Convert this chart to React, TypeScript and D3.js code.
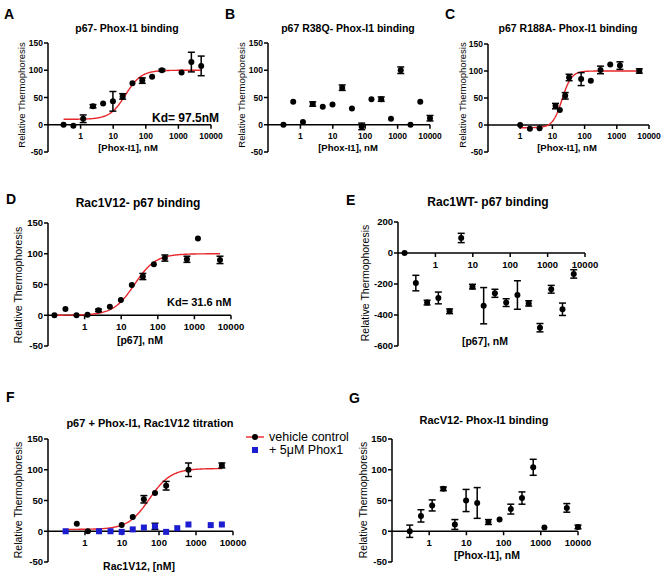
import React from "react";
import * as d3 from "d3";

const FONT = "'Liberation Sans', Arial, Helvetica, sans-serif";

// ---------- data ----------
const xTickValues = [1, 10, 100, 1000, 10000];
const yTicksStd = [150, 100, 50, 0, -50];
const yTicksE = [200, 0, -200, -400, -600];

// A: p67 - Phox-I1
const concA = [0.3, 0.6, 1.2, 2.4, 4.9, 9.8, 19.5, 39, 78, 156, 312, 1250, 2500, 5000];
const valA = [0, -2, 11, 34, 39, 43, 52, 76, 81, 88, 100, 96, 115, 108];
const errA = [0, 0, 7, 3, 0, 18, 5, 0, 5, 0, 2, 0, 18, 18];

// B: p67 R38Q - Phox-I1
const concB = [0.3, 0.6, 1.2, 2.4, 4.9, 9.8, 19.5, 39, 78, 156, 312, 625, 1250, 2500, 5000, 10000];
const valB = [0, 42, 5, 38, 33, 37, 68, 30, -3, 47, 47, 11, 100, 0, 42, 12];
const errB = [0, 0, 0, 4, 0, 0, 5, 0, 6, 0, 4, 0, 6, 0, 0, 5];

// C: p67 R188A - Phox-I1
const concC = [1, 2, 4, 12.5, 17, 25, 33, 78, 156, 312, 625, 1250, 5000];
const valC = [0, -7, -6, 35, 28, 54, 88, 85, 82, 102, 112, 110, 100];
const errC = [0, 0, 0, 5, 0, 6, 6, 12, 0, 7, 0, 7, 4];

// D: Rac1V12 - p67
const concD = [0.15, 0.3, 0.6, 1.2, 2.4, 4.9, 9.8, 19.5, 39, 78, 156, 625, 1250, 5000];
const valD = [0, 10, 0, 1, 8, 14, 25, 49, 63, 83, 93, 91, 125, 90];
const errD = [0, 0, 0, 0, 2, 0, 0, 0, 5, 0, 5, 5, 0, 6];

// E: Rac1WT - p67
const concE = [0.15, 0.3, 0.6, 1.2, 2.4, 4.9, 9.8, 19.5, 39, 78, 156, 312, 625, 1250, 2500, 5000];
const valE = [0, -194, -320, -290, -376, 97, -217, -340, -260, -320, -271, -325, -482, -234, -363, -135];
const errE = [0, 50, 15, 38, 15, 30, 15, 117, 26, 25, 92, 17, 27, 25, 40, 27];

// F: p67 + Phox-I1, Rac1V12 titration
const concFveh = [0.6, 1.2, 9.8, 19.5, 39, 78, 156, 625, 5000];
const valFveh = [12, 0, 10, 23, 52, 62, 74, 100, 107];
const errFveh = [0, 0, 0, 0, 6, 0, 7, 11, 4];
const concFphox = [0.3, 2.4, 4.9, 9.8, 19.5, 39, 78, 156, 312, 625, 2500, 5000];
const valFphox = [0, 0, 0, -1, 3, 6, 8, -1, 5, 11, 10, 11];
const errFphox = [0, 0, 0, 0, 0, 0, 5, 0, 0, 0, 0, 0];
const legendF = ["vehicle control", "+ 5\u03bcM Phox1"];

// G: RacV12 - Phox-I1
const concG = [0.3, 0.6, 1.2, 2.4, 4.9, 9.8, 19.5, 39, 78, 156, 312, 625, 1250, 5000, 10000];
const valG = [0, 25, 42, 69, 11, 50, 46, 15, 19, 36, 54, 104, 6, 38, 7];
const errG = [10, 10, 9, 3, 8, 18, 25, 4, 0, 8, 10, 13, 0, 7, 3];

// fitted sigmoid parameters (bottom, top, EC50, hill, range)
const fitA = { bottom: 10, top: 100, ec50: 24, hill: 1.8, from: 0.3, to: 5000 };
const fitC = { bottom: -5, top: 100, ec50: 20, hill: 3, from: 1, to: 5000 };
const fitD = { bottom: 0, top: 100, ec50: 23, hill: 1.5, from: 0.15, to: 5000 };
const fitF = { bottom: 3, top: 102, ec50: 55, hill: 1.5, from: 0.3, to: 5000 };

// ---------- rendering ----------
type Series = { conc: number[]; val: number[]; err: number[]; shape: "circle" | "square"; color: string };
type Fit = { bottom: number; top: number; ec50: number; hill: number; from: number; to: number };
type PanelCfg = {
  letter: string; letterPos: [number, number];
  title: string; titlePos: [number, number]; titleSize: number;
  xRange: [number, number]; yPix: [number, number]; yDomain: [number, number]; yTicks: number[];
  tickSize: number; tickLabelDy: number;
  xTitle: string; xTitlePos: [number, number]; xTitleSize: number;
  yTitlePos: [number, number]; yTitleSize: number;
  series: Series[]; fit?: Fit;
  kd?: { text: string; x: number; y: number; size: number };
};

const RED = "#e8262b";
const BLUE = "#1c1cd0";

function sigmoid(f: Fit, x: number) {
  return f.bottom + (f.top - f.bottom) / (1 + Math.pow(f.ec50 / x, f.hill));
}

function Panel({ cfg }: { cfg: PanelCfg }) {
  const x = d3.scaleLog().domain([0.1, 10000]).range(cfg.xRange);
  const y = d3.scaleLinear().domain(cfg.yDomain).range(cfg.yPix);
  const ax = cfg.xRange[0];
  const y0 = y(0);
  let curve: string | null = null;
  if (cfg.fit) {
    const f = cfg.fit;
    const lx = d3.scaleLog().domain([f.from, f.to]);
    const samples = d3.range(0, 201).map((i) => lx.invert(i / 200));
    curve = d3.line<number>().x((c) => x(c)).y((c) => y(sigmoid(f, c)))(samples);
  }
  const cap = 3.5;
  return (
    <g>
      <text x={cfg.letterPos[0]} y={cfg.letterPos[1]} fontFamily={FONT} fontWeight="bold" fontSize={14}>{cfg.letter}</text>
      <text x={cfg.titlePos[0]} y={cfg.titlePos[1]} textAnchor="middle" fontFamily={FONT} fontWeight="bold" fontSize={cfg.titleSize}>{cfg.title}</text>
      {/* y axis */}
      <line x1={ax} x2={ax} y1={y(cfg.yTicks[0])} y2={y(cfg.yTicks[cfg.yTicks.length - 1])} stroke="#000" strokeWidth={1.5} />
      {cfg.yTicks.map((t) => (
        <g key={"y" + t}>
          <line x1={ax - 4} x2={ax} y1={y(t)} y2={y(t)} stroke="#000" strokeWidth={1.5} />
          <text x={ax - 5} y={y(t) + cfg.tickSize * 0.36} textAnchor="end" fontFamily={FONT} fontWeight="bold" fontSize={cfg.tickSize}>{t}</text>
        </g>
      ))}
      {/* x axis at y=0 */}
      <line x1={ax} x2={cfg.xRange[1]} y1={y0} y2={y0} stroke="#000" strokeWidth={1.5} />
      {xTickValues.map((t) => (
        <g key={"x" + t}>
          <line x1={x(t)} x2={x(t)} y1={y0} y2={y0 + 4} stroke="#000" strokeWidth={1.5} />
          <text x={x(t)} y={y0 + cfg.tickLabelDy} textAnchor="middle" fontFamily={FONT} fontWeight="bold" fontSize={cfg.tickSize}>{t}</text>
        </g>
      ))}
      <text x={cfg.xTitlePos[0]} y={cfg.xTitlePos[1]} textAnchor="middle" fontFamily={FONT} fontWeight="bold" fontSize={cfg.xTitleSize}>{cfg.xTitle}</text>
      <text transform={`translate(${cfg.yTitlePos[0]},${cfg.yTitlePos[1]}) rotate(-90)`} textAnchor="middle" fontFamily={FONT} fontSize={cfg.yTitleSize}>Relative Thermophoresis</text>
      {curve && <path d={curve} fill="none" stroke={RED} strokeWidth={1.4} />}
      {cfg.series.map((s, si) => (
        <g key={"s" + si}>
          {s.conc.map((c, i) => {
            const px = x(c);
            const py = y(s.val[i]);
            const e = s.err[i];
            return (
              <g key={i}>
                {e > 0 && (
                  <g stroke="#000" strokeWidth={1.5}>
                    <line x1={px} x2={px} y1={y(s.val[i] + e)} y2={y(s.val[i] - e)} />
                    <line x1={px - cap} x2={px + cap} y1={y(s.val[i] + e)} y2={y(s.val[i] + e)} />
                    <line x1={px - cap} x2={px + cap} y1={y(s.val[i] - e)} y2={y(s.val[i] - e)} />
                  </g>
                )}
                {s.shape === "circle" ? (
                  <circle cx={px} cy={py} r={3} fill={s.color} />
                ) : (
                  <rect x={px - 3} y={py - 3} width={6} height={6} fill={s.color} />
                )}
              </g>
            );
          })}
        </g>
      ))}
      {cfg.kd && (
        <text x={cfg.kd.x} y={cfg.kd.y} fontFamily={FONT} fontWeight="bold" fontSize={cfg.kd.size}>{cfg.kd.text}</text>
      )}
    </g>
  );
}

const small = { tickSize: 8.5, tickLabelDy: 14, xTitleSize: 9.5, yTitleSize: 9.5, titleSize: 10.5 };
const big = { tickSize: 9.5, tickLabelDy: 15, xTitleSize: 10.5, yTitleSize: 10.5, titleSize: 11 };

const panels: PanelCfg[] = [
  {
    ...small, letter: "A", letterPos: [4, 19], title: "p67- Phox-I1 binding", titlePos: [127, 32],
    xRange: [48, 211], yPix: [152, 43], yDomain: [-50, 150], yTicks: yTicksStd,
    xTitle: "[Phox-I1], nM", xTitlePos: [128, 151], yTitlePos: [25, 95],
    series: [{ conc: concA, val: valA, err: errA, shape: "circle", color: "#000" }], fit: fitA,
    kd: { text: "Kd= 97.5nM", x: 152, y: 122, size: 12 },
  },
  {
    ...small, letter: "B", letterPos: [225, 19], title: "p67 R38Q- Phox-I1 binding", titlePos: [348, 32],
    xRange: [268, 430], yPix: [152, 43], yDomain: [-50, 150], yTicks: yTicksStd,
    xTitle: "[Phox-I1], nM", xTitlePos: [348, 151], yTitlePos: [245, 95],
    series: [{ conc: concB, val: valB, err: errB, shape: "circle", color: "#000" }],
  },
  {
    ...small, letter: "C", letterPos: [445, 19], title: "p67 R188A- Phox-I1 binding", titlePos: [568, 32],
    xRange: [488, 649], yPix: [152, 44], yDomain: [-50, 150], yTicks: yTicksStd,
    xTitle: "[Phox-I1], nM", xTitlePos: [567, 151], yTitlePos: [466, 95],
    series: [{ conc: concC, val: valC, err: errC, shape: "circle", color: "#000" }], fit: fitC,
  },
  {
    ...big, titleSize: 12, letter: "D", letterPos: [6, 204], title: "Rac1V12- p67 binding", titlePos: [138, 207],
    xRange: [48, 231], yPix: [346, 223], yDomain: [-50, 150], yTicks: yTicksStd,
    xTitle: "[p67], nM", xTitlePos: [140, 344], yTitlePos: [22, 285],
    series: [{ conc: concD, val: valD, err: errD, shape: "circle", color: "#000" }], fit: fitD,
    kd: { text: "Kd= 31.6 nM", x: 167, y: 306, size: 11 },
  },
  {
    ...big, titleSize: 12, letter: "E", letterPos: [346, 205], title: "Rac1WT- p67 binding", titlePos: [488, 206],
    xRange: [398, 585], yPix: [346, 222], yDomain: [-600, 200], yTicks: yTicksE,
    xTitle: "[p67], nM", xTitlePos: [485, 345], yTitlePos: [369, 283],
    series: [{ conc: concE, val: valE, err: errE, shape: "circle", color: "#000" }],
  },
  {
    ...big, letter: "F", letterPos: [6, 402], title: "p67 + Phox-I1, Rac1V12 titration", titlePos: [150, 427],
    xRange: [48, 233], yPix: [562, 439], yDomain: [-50, 150], yTicks: yTicksStd,
    xTitle: "Rac1V12, [nM]", xTitlePos: [139, 570], yTitlePos: [22, 500],
    series: [
      { conc: concFphox, val: valFphox, err: errFphox, shape: "square", color: BLUE },
      { conc: concFveh, val: valFveh, err: errFveh, shape: "circle", color: "#000" },
    ],
    fit: fitF,
  },
  {
    ...big, letter: "G", letterPos: [349, 403], title: "RacV12- Phox-I1 binding", titlePos: [484, 424],
    xRange: [392, 578], yPix: [562, 439], yDomain: [-50, 150], yTicks: yTicksStd,
    xTitle: "[Phox-I1], nM", xTitlePos: [487, 559], yTitlePos: [367, 500],
    series: [{ conc: concG, val: valG, err: errG, shape: "circle", color: "#000" }],
  },
];

export default function App() {
  return (
    <svg width={670} height={579} style={{ position: "absolute", left: 0, top: 0, background: "#fff" }}>
      <rect width={670} height={579} fill="#fff" />
      {panels.map((p) => (
        <Panel key={p.letter} cfg={p} />
      ))}
      {/* legend for F */}
      <g fontFamily={FONT} fontSize={12.5}>
        <line x1={246} x2={264} y1={437} y2={437} stroke={RED} strokeWidth={1.4} />
        <circle cx={255} cy={437} r={3} fill="#000" />
        <text x={269} y={441}>{legendF[0]}</text>
        <rect x={252} y={447} width={6} height={6} fill={BLUE} />
        <text x={269} y={454}>{legendF[1]}</text>
      </g>
    </svg>
  );
}
